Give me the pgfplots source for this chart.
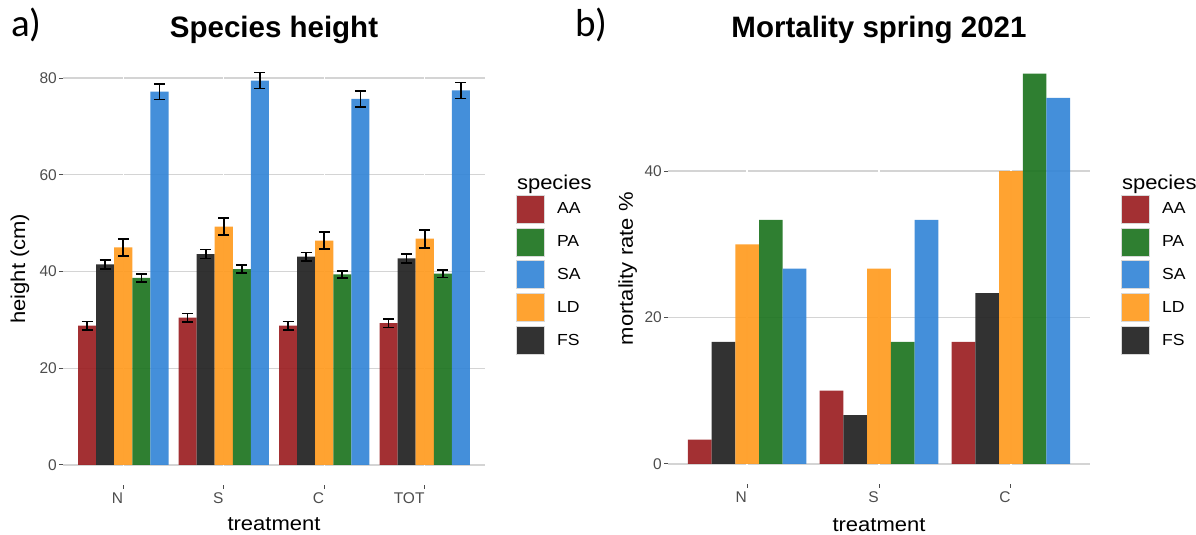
\documentclass[border=0pt]{standalone}
\usepackage{fontspec}
\setmainfont{Liberation Sans}
\newfontfamily\widefont{Liberation Sans}[FakeStretch=1.1]
\newfontfamily\panelfont{Carlito}
\usepackage{pgfplots}
\usepackage{pgfplotstable}
\pgfplotsset{compat=1.18}

\definecolor{cAA}{RGB}{155,30,34}
\definecolor{cFS}{RGB}{33,33,33}
\definecolor{cLD}{RGB}{255,155,31}
\definecolor{cPA}{RGB}{29,116,32}
\definecolor{cSA}{RGB}{52,133,215}
\definecolor{gridgray}{RGB}{212,212,212}
\definecolor{tickgray}{RGB}{77,77,77}

% mean height (cm) and standard error per treatment (1=N, 2=S, 3=C, 4=TOT)
\pgfplotstableread{
x AA    eAA  FS   eFS  LD   eLD  PA    ePA  SA    eSA
1 28.8  0.85 41.5 0.90 45.0 1.80 38.7  0.80 77.2  1.60
2 30.45 0.87 43.6 0.93 49.3 1.80 40.5  0.80 79.5  1.65
3 28.8  0.85 43.1 0.86 46.4 1.80 39.4  0.76 75.7  1.65
4 29.35 0.90 42.7 0.93 46.8 1.86 39.55 0.80 77.45 1.65
}\heights

% mortality rate (%) per treatment (1=N, 2=S, 3=C)
\pgfplotstableread{
x AA    FS    LD    PA    SA
1 3.33  16.67 30.00 33.33 26.67
2 10.00 6.67  26.67 16.67 33.33
3 16.67 23.33 40.00 53.33 50.00
}\mortality

\tikzset{whitegap/.style={white, line width=1.3pt}}

\pgfplotsset{
  gg/.style={
    scale only axis,
    anchor=south west,
    axis x line*=bottom, axis y line*=left,
    axis line style={draw=none},
    tick align=outside,
    major tick length=4pt,
    tick style={tickgray, line width=1pt},
    ymajorgrids,
    major grid style={gridgray, line width=1.3pt},
    tick label style={font=\fontsize{15.5}{18}\selectfont, text=tickgray},
    /pgf/number format/assume math mode=true,
    xticklabel style={anchor=north east, inner sep=0pt, yshift=-4pt},
    yticklabel style={anchor=east, inner sep=0pt, xshift=-2pt},
    legend cell align=left,
    legend style={draw=none, fill=none, inner sep=0pt, row sep=4pt,
      column sep=12pt, anchor=north west,
      nodes={inner sep=0pt, font=\widefont\fontsize{16}{18}\selectfont}},
    legend image code/.code={\draw[##1, draw=gray!30, line width=0.8pt]
      (0pt,-14pt) rectangle (28pt,14pt);},
  },
  sqkey/.style={fill=#1, fill opacity=0.92},
  ggbar/.style={ybar, fill=#1, draw=none, fill opacity=0.92},
  % standard-error whiskers, drawn as a separate mark-free plot per species
  eb/.style={forget plot, draw=none, mark=none,
    error bars/.cd, y dir=both, y explicit,
    error bar style={draw=black, line width=1.7pt},
    error mark options={draw=black, rotate=90, line width=1.7pt, mark size=5.5pt}},
}

\newcommand{\legendtitle}{\hspace{-40pt}\rule[-10.5pt]{0pt}{32pt}\fontsize{20}{24}\selectfont species}

\begin{document}
\begin{tikzpicture}
\path[use as bounding box] (0,0) rectangle (1196pt,535pt);

% ---------- a) species height ----------
\begin{axis}[gg, at={(63pt,50.4pt)}, width=422pt, height=431.6pt,
  xmin=0.4, xmax=4.6, ymin=-4.06, ymax=85.2,
  xtick={1,2,3,4}, xticklabels={N,S,C,TOT},
  ytick={0,20,40,60,80},
  xlabel={treatment}, ylabel={height (cm)},
  every axis x label/.style={at={(axis description cs:0.5,-0.1075)}, anchor=base,
    font=\widefont\fontsize{20}{24}\selectfont},
  every axis y label/.style={at={(axis description cs:-0.090,0.5)}, rotate=90, anchor=base,
    font=\widefont\fontsize{20}{24}\selectfont},
  legend style={at={(axis description cs:1.0735,0.7346)}},
]
% white vertical breaks through the grid at each group centre
\draw[whitegap] (axis cs:1,-4.06) -- (axis cs:1,85.2);
\draw[whitegap] (axis cs:2,-4.06) -- (axis cs:2,85.2);
\draw[whitegap] (axis cs:3,-4.06) -- (axis cs:3,85.2);
\draw[whitegap] (axis cs:4,-4.06) -- (axis cs:4,85.2);

\addlegendimage{empty legend}\addlegendentry{\legendtitle}
\addlegendimage{sqkey=cAA}\addlegendentry{AA}
\addlegendimage{sqkey=cPA}\addlegendentry{PA}
\addlegendimage{sqkey=cSA}\addlegendentry{SA}
\addlegendimage{sqkey=cLD}\addlegendentry{LD}
\addlegendimage{sqkey=cFS}\addlegendentry{FS}

\addplot[ggbar=cAA, bar width=18.09pt, bar shift=-36.17pt] table[x=x, y=AA] {\heights};
\addplot[ggbar=cFS, bar width=18.09pt, bar shift=-18.09pt] table[x=x, y=FS] {\heights};
\addplot[ggbar=cLD, bar width=18.09pt, bar shift=0pt]      table[x=x, y=LD] {\heights};
\addplot[ggbar=cPA, bar width=18.09pt, bar shift=18.09pt]  table[x=x, y=PA] {\heights};
\addplot[ggbar=cSA, bar width=18.09pt, bar shift=36.17pt]  table[x=x, y=SA] {\heights};

\addplot[eb] table[x expr=\thisrow{x}-0.36, y=AA, y error=eAA] {\heights};
\addplot[eb] table[x expr=\thisrow{x}-0.18, y=FS, y error=eFS] {\heights};
\addplot[eb] table[x expr=\thisrow{x},      y=LD, y error=eLD] {\heights};
\addplot[eb] table[x expr=\thisrow{x}+0.18, y=PA, y error=ePA] {\heights};
\addplot[eb] table[x expr=\thisrow{x}+0.36, y=SA, y error=eSA] {\heights};
\end{axis}

% ---------- b) mortality ----------
\begin{axis}[gg, at={(668pt,51.5pt)}, width=422pt, height=429.5pt,
  xmin=0.4, xmax=3.6, ymin=-2.67, ymax=56,
  xtick={1,2,3}, xticklabels={N,S,C},
  ytick={0,20,40},
  xlabel={treatment}, ylabel={mortality rate \%},
  every axis x label/.style={at={(axis description cs:0.5,-0.1106)}, anchor=base,
    font=\widefont\fontsize{20}{24}\selectfont},
  every axis y label/.style={at={(axis description cs:-0.083,0.5)}, rotate=90, anchor=base,
    font=\widefont\fontsize{20}{24}\selectfont},
  legend style={at={(axis description cs:1.0735,0.7357)}},
]
\draw[whitegap] (axis cs:1,-2.67) -- (axis cs:1,56);
\draw[whitegap] (axis cs:2,-2.67) -- (axis cs:2,56);
\draw[whitegap] (axis cs:3,-2.67) -- (axis cs:3,56);

\addlegendimage{empty legend}\addlegendentry{\legendtitle}
\addlegendimage{sqkey=cAA}\addlegendentry{AA}
\addlegendimage{sqkey=cPA}\addlegendentry{PA}
\addlegendimage{sqkey=cSA}\addlegendentry{SA}
\addlegendimage{sqkey=cLD}\addlegendentry{LD}
\addlegendimage{sqkey=cFS}\addlegendentry{FS}

\addplot[ggbar=cAA, bar width=23.74pt, bar shift=-47.48pt] table[x=x, y=AA] {\mortality};
\addplot[ggbar=cFS, bar width=23.74pt, bar shift=-23.74pt] table[x=x, y=FS] {\mortality};
\addplot[ggbar=cLD, bar width=23.74pt, bar shift=0pt]      table[x=x, y=LD] {\mortality};
\addplot[ggbar=cPA, bar width=23.74pt, bar shift=23.74pt]  table[x=x, y=PA] {\mortality};
\addplot[ggbar=cSA, bar width=23.74pt, bar shift=47.48pt]  table[x=x, y=SA] {\mortality};
\end{axis}

% panel titles and letters
\node[anchor=base] at (274pt,497pt) {\bfseries\fontsize{29.5}{32}\selectfont Species height};
\node[anchor=base] at (879pt,497pt) {\bfseries\fontsize{29.5}{32}\selectfont Mortality spring 2021};
\node[anchor=base west, inner sep=0pt] at (11pt,498pt) {\panelfont\fontsize{39}{40}\selectfont a)};
\node[anchor=base west, inner sep=0pt] at (575pt,498pt) {\panelfont\fontsize{39}{40}\selectfont b)};
\end{tikzpicture}
\end{document}
